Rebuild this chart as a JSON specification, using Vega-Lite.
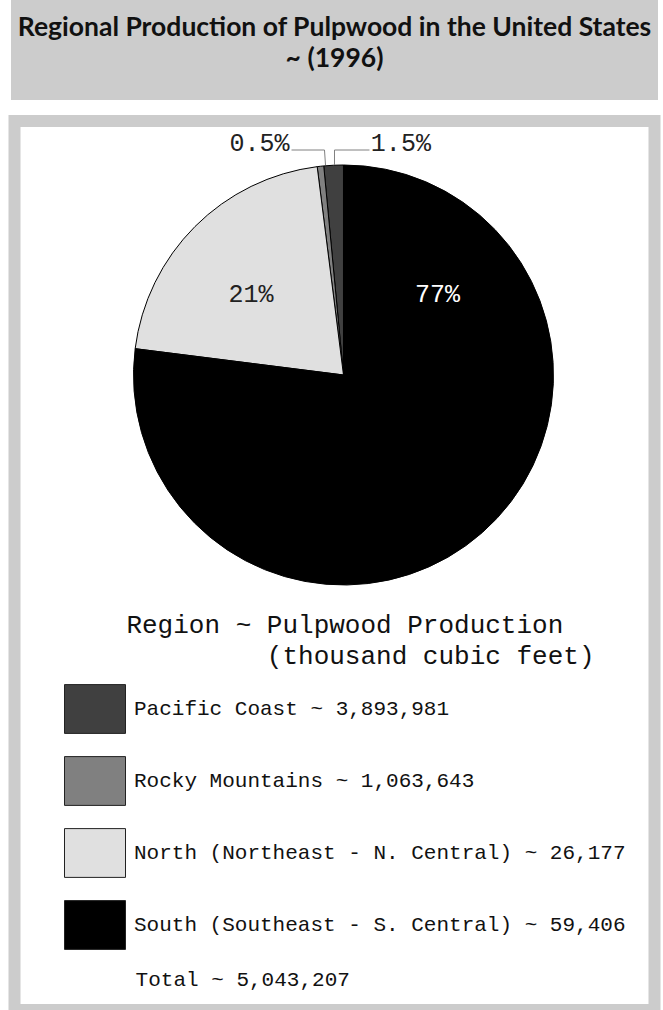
{
  "$schema": "https://vega.github.io/schema/vega-lite/v6.json",
  "background": "white",
  "padding": {"left": 8, "right": 6, "top": 0, "bottom": 0},
  "bounds": "flush",
  "center": true,
  "spacing": 21,
  "config": {"view": {"stroke": null}},
  "vconcat": [
    {
      "width": 647,
      "height": 100,
      "view": {"fill": "#cccccc", "stroke": null},
      "data": {"values": [{"heading": "Regional Production of Pulpwood in the United States\n~ (1996)"}]},
      "mark": {"type": "text", "lineBreak": "\n", "font": "Lato", "fontWeight": "bold", "fontSize": 26.5, "lineHeight": 31, "baseline": "middle", "align": "center", "color": "#111111", "dy": -22},
      "encoding": {"text": {"field": "heading", "type": "nominal"}}
    },
    {
      "width": 640,
      "height": 889,
      "view": {"fill": "white", "stroke": "#cccccc", "strokeWidth": 12},
      "data": {"values": [
        {"region": "Pacific Coast ~ 3,893,981", "share": 0.015, "seq": 4},
        {"region": "Rocky Mountains ~ 1,063,643", "share": 0.005, "seq": 3},
        {"region": "North (Northeast - N. Central) ~ 26,177", "share": 0.21, "seq": 2},
        {"region": "South (Southeast - S. Central) ~ 59,406", "share": 0.77, "seq": 1}
      ]},
      "encoding": {
        "x": {"datum": 0, "type": "quantitative", "scale": {"domain": [-1.5667, 1.4810], "nice": false, "zero": false}, "axis": null},
        "y": {"datum": 0, "type": "quantitative", "scale": {"domain": [-3.0238, 1.2095], "nice": false, "zero": false}, "axis": null}
      },
      "layer": [
        {
          "mark": {"type": "arc", "outerRadius": 210, "stroke": "#000000", "strokeWidth": 1},
          "encoding": {
            "theta": {"field": "share", "type": "quantitative", "stack": true},
            "order": {"field": "seq", "type": "quantitative"},
            "color": {
              "field": "region",
              "type": "nominal",
              "scale": {
                "domain": ["Pacific Coast ~ 3,893,981", "Rocky Mountains ~ 1,063,643", "North (Northeast - N. Central) ~ 26,177", "South (Southeast - S. Central) ~ 59,406"],
                "range": ["#404040", "#808080", "#e0e0e0", "#000000"]
              },
              "legend": {
                "orient": "none",
                "legendX": 53,
                "legendY": 612,
                "padding": 0,
                "title": ["\u200b\u00a0\u00a0\u00a0\u00a0Region ~ Pulpwood Production", "\u200b\u00a0\u00a0\u00a0\u00a0\u00a0\u00a0\u00a0\u00a0\u00a0\u00a0\u00a0\u00a0\u00a0(thousand cubic feet)"],
                "titleFont": "Liberation Mono",
                "titleFontSize": 26,
                "titleFontWeight": "normal",
                "titleColor": "#111111",
                "titleLineHeight": 31,
                "titleLimit": 1000,
                "titlePadding": 9,
                "titleBaseline": "top",
                "symbolType": "M-1,-0.8H1V0.8H-1Z",
                "symbolSize": 3721,
                "symbolStrokeColor": "#222222",
                "symbolStrokeWidth": 1,
                "symbolOpacity": 1,
                "labelFont": "Liberation Mono",
                "labelFontSize": 21,
                "labelColor": "#111111",
                "labelOffset": 8,
                "labelLimit": 1000,
                "labelBaseline": "middle",
                "rowPadding": 14
              }
            }
          }
        },
        {
          "transform": [{"filter": "datum.seq == 1"}],
          "mark": {"type": "text", "theta": 0.911, "radius": 119, "font": "Liberation Mono", "fontSize": 25, "align": "center", "baseline": "alphabetic", "color": "#ffffff"},
          "encoding": {"text": {"field": "share", "type": "quantitative", "format": ".0%"}}
        },
        {
          "transform": [{"filter": "datum.seq == 2"}],
          "mark": {"type": "text", "theta": -0.902, "radius": 118, "font": "Liberation Mono", "fontSize": 25, "align": "center", "baseline": "alphabetic", "color": "#222222"},
          "encoding": {"text": {"field": "share", "type": "quantitative", "format": ".0%"}}
        },
        {
          "transform": [{"filter": "datum.seq == 3"}],
          "mark": {"type": "text", "theta": -0.359, "radius": 239, "font": "Liberation Mono", "fontSize": 25, "align": "center", "baseline": "alphabetic", "color": "#222222"},
          "encoding": {"text": {"field": "share", "type": "quantitative", "format": ".1%"}}
        },
        {
          "transform": [{"filter": "datum.seq == 4"}],
          "mark": {"type": "text", "theta": 0.251, "radius": 231, "font": "Liberation Mono", "fontSize": 25, "align": "center", "baseline": "alphabetic", "color": "#222222"},
          "encoding": {"text": {"field": "share", "type": "quantitative", "format": ".1%"}}
        },
        {
          "transform": [{"filter": "datum.seq == 3"}],
          "mark": {"type": "rule", "color": "#808080", "strokeWidth": 1},
          "encoding": {"x": {"datum": -0.2476}, "x2": {"datum": -0.0905}, "y": {"datum": 1.0714}, "y2": {"datum": 1.0714}}
        },
        {
          "transform": [{"filter": "datum.seq == 3"}],
          "mark": {"type": "rule", "color": "#808080", "strokeWidth": 1},
          "encoding": {"x": {"datum": -0.0905}, "x2": {"datum": -0.0857}, "y": {"datum": 1.0714}, "y2": {"datum": 1.0}}
        },
        {
          "transform": [{"filter": "datum.seq == 4"}],
          "mark": {"type": "rule", "color": "#808080", "strokeWidth": 1},
          "encoding": {"x": {"datum": -0.0429}, "x2": {"datum": 0.1238}, "y": {"datum": 1.0714}, "y2": {"datum": 1.0714}}
        },
        {
          "transform": [{"filter": "datum.seq == 4"}],
          "mark": {"type": "rule", "color": "#808080", "strokeWidth": 1},
          "encoding": {"x": {"datum": -0.0429}, "x2": {"datum": -0.0429}, "y": {"datum": 1.0714}, "y2": {"datum": 1.0}}
        },
        {
          "data": {"values": [{"note": "Total ~ 5,043,207"}]},
          "mark": {"type": "text", "font": "Liberation Mono", "fontSize": 21, "align": "left", "baseline": "alphabetic", "color": "#111111"},
          "encoding": {
            "text": {"field": "note", "type": "nominal"},
            "x": {"datum": -0.990},
            "y": {"datum": -2.910}
          }
        }
      ]
    }
  ]
}
